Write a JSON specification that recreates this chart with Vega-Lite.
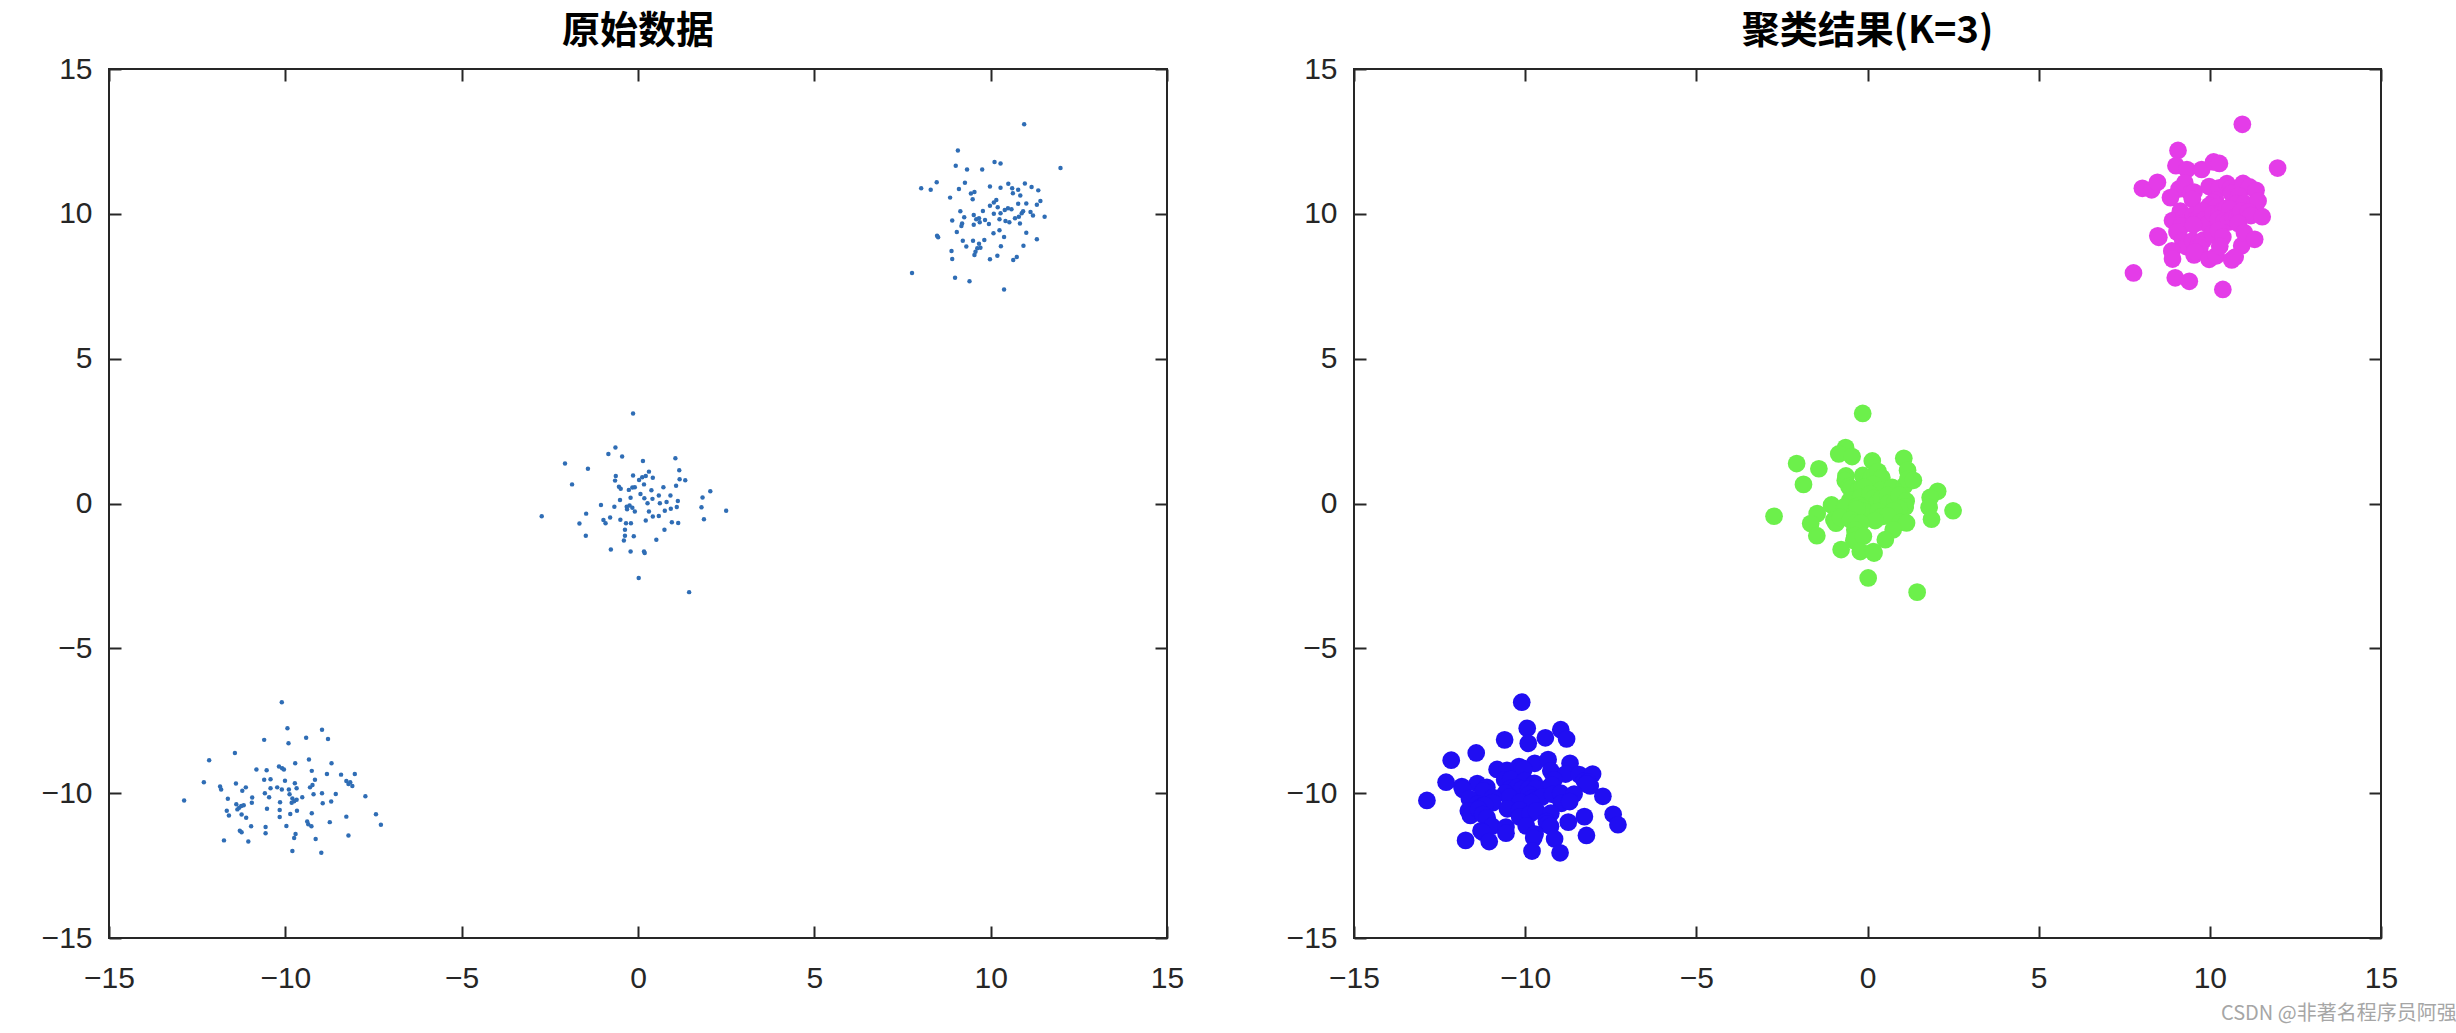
{
"$schema": "https://vega.github.io/schema/vega-lite/v6.json",
"background": "white",
"padding": {"left": 40, "top": 12, "right": 8, "bottom": 5},
"config": {
  "view": {"stroke": "#262626", "strokeWidth": 2},
  "axis": {"domain": false, "grid": false, "tickSize": -12, "tickColor": "#262626", "tickWidth": 2, "labelFont": "Liberation Sans", "labelFontSize": 30, "labelColor": "#262626", "labelFlush": false, "labelOverlap": false, "labelBound": false, "title": null},
  "title": {"font": "Noto Sans CJK SC", "fontSize": 38, "fontWeight": "bold", "color": "#000000", "offset": 3}
},
"data": {"values": [
{"x":10.95,"y":13.09,"c":"A"},{"x":9.07,"y":12.19,"c":"A"},{"x":9.01,"y":11.66,"c":"A"},{"x":9.33,"y":11.53,"c":"A"},{"x":9.76,"y":11.53,"c":"A"},{"x":10.11,"y":11.79,"c":"A"},{"x":10.28,"y":11.74,"c":"A"},{"x":11.98,"y":11.58,"c":"A"},{"x":8.03,"y":10.88,"c":"A"},{"x":8.30,"y":10.83,"c":"A"},
{"x":8.47,"y":11.09,"c":"A"},{"x":9.10,"y":10.86,"c":"A"},{"x":9.27,"y":11.07,"c":"A"},{"x":8.85,"y":10.56,"c":"A"},{"x":9.44,"y":10.70,"c":"A"},{"x":9.54,"y":10.75,"c":"A"},{"x":9.49,"y":10.50,"c":"A"},{"x":9.98,"y":10.94,"c":"A"},{"x":10.28,"y":10.90,"c":"A"},{"x":10.50,"y":11.04,"c":"A"},
{"x":10.61,"y":10.88,"c":"A"},{"x":10.78,"y":10.83,"c":"A"},{"x":10.97,"y":11.05,"c":"A"},{"x":11.16,"y":10.93,"c":"A"},{"x":11.35,"y":10.81,"c":"A"},{"x":10.63,"y":10.71,"c":"A"},{"x":10.84,"y":10.63,"c":"A"},{"x":10.16,"y":10.48,"c":"A"},{"x":10.09,"y":10.39,"c":"A"},{"x":9.98,"y":10.28,"c":"A"},
{"x":10.20,"y":10.23,"c":"A"},{"x":10.78,"y":10.35,"c":"A"},{"x":11.01,"y":10.36,"c":"A"},{"x":11.31,"y":10.31,"c":"A"},{"x":11.41,"y":10.44,"c":"A"},{"x":9.14,"y":10.09,"c":"A"},{"x":8.91,"y":9.77,"c":"A"},{"x":9.25,"y":9.88,"c":"A"},{"x":9.19,"y":9.67,"c":"A"},{"x":9.17,"y":9.58,"c":"A"},
{"x":9.52,"y":9.96,"c":"A"},{"x":9.59,"y":9.81,"c":"A"},{"x":9.67,"y":9.85,"c":"A"},{"x":9.78,"y":10.10,"c":"A"},{"x":9.69,"y":9.71,"c":"A"},{"x":9.84,"y":9.79,"c":"A"},{"x":9.95,"y":9.65,"c":"A"},{"x":9.52,"y":9.62,"c":"A"},{"x":10.09,"y":10.00,"c":"A"},{"x":10.28,"y":10.02,"c":"A"},
{"x":10.40,"y":10.13,"c":"A"},{"x":10.49,"y":10.19,"c":"A"},{"x":10.59,"y":10.16,"c":"A"},{"x":10.25,"y":9.81,"c":"A"},{"x":10.42,"y":9.75,"c":"A"},{"x":10.53,"y":9.71,"c":"A"},{"x":10.69,"y":9.85,"c":"A"},{"x":10.80,"y":9.90,"c":"A"},{"x":10.88,"y":10.02,"c":"A"},{"x":10.92,"y":10.09,"c":"A"},
{"x":11.13,"y":10.06,"c":"A"},{"x":11.20,"y":9.94,"c":"A"},{"x":11.53,"y":9.90,"c":"A"},{"x":10.83,"y":9.67,"c":"A"},{"x":9.04,"y":9.37,"c":"A"},{"x":8.51,"y":9.19,"c":"A"},{"x":8.48,"y":9.24,"c":"A"},{"x":9.21,"y":9.07,"c":"A"},{"x":9.31,"y":8.87,"c":"A"},{"x":9.50,"y":9.07,"c":"A"},
{"x":9.67,"y":8.97,"c":"A"},{"x":9.82,"y":9.10,"c":"A"},{"x":9.62,"y":8.81,"c":"A"},{"x":9.71,"y":8.83,"c":"A"},{"x":9.54,"y":8.58,"c":"A"},{"x":9.57,"y":8.69,"c":"A"},{"x":8.89,"y":8.72,"c":"A"},{"x":8.91,"y":8.44,"c":"A"},{"x":9.98,"y":8.43,"c":"A"},{"x":10.19,"y":8.55,"c":"A"},
{"x":10.08,"y":9.33,"c":"A"},{"x":10.25,"y":9.43,"c":"A"},{"x":10.38,"y":9.20,"c":"A"},{"x":10.29,"y":8.88,"c":"A"},{"x":10.93,"y":8.90,"c":"A"},{"x":11.01,"y":9.35,"c":"A"},{"x":11.31,"y":9.12,"c":"A"},{"x":10.64,"y":8.41,"c":"A"},{"x":10.74,"y":8.51,"c":"A"},{"x":7.77,"y":7.96,"c":"A"},
{"x":8.99,"y":7.79,"c":"A"},{"x":9.40,"y":7.67,"c":"A"},{"x":10.38,"y":7.39,"c":"A"},
{"x":-0.14,"y":3.11,"c":"B"},{"x":-0.64,"y":1.93,"c":"B"},{"x":-0.84,"y":1.71,"c":"B"},{"x":-0.45,"y":1.62,"c":"B"},{"x":-2.07,"y":1.38,"c":"B"},{"x":-1.42,"y":1.20,"c":"B"},{"x":0.14,"y":1.47,"c":"B"},{"x":1.06,"y":1.56,"c":"B"},{"x":1.17,"y":1.15,"c":"B"},{"x":-1.87,"y":0.66,"c":"B"},
{"x":-0.63,"y":0.95,"c":"B"},{"x":-0.65,"y":0.79,"c":"B"},{"x":-0.54,"y":0.58,"c":"B"},{"x":-0.49,"y":0.51,"c":"B"},{"x":-0.14,"y":0.97,"c":"B"},{"x":0.03,"y":0.81,"c":"B"},{"x":0.12,"y":0.91,"c":"B"},{"x":0.22,"y":0.95,"c":"B"},{"x":0.31,"y":1.10,"c":"B"},{"x":0.42,"y":0.89,"c":"B"},
{"x":0.17,"y":0.66,"c":"B"},{"x":-0.26,"y":0.47,"c":"B"},{"x":-0.16,"y":0.55,"c":"B"},{"x":-0.09,"y":0.56,"c":"B"},{"x":0.38,"y":0.46,"c":"B"},{"x":0.72,"y":0.56,"c":"B"},{"x":1.08,"y":0.61,"c":"B"},{"x":1.18,"y":0.84,"c":"B"},{"x":1.34,"y":0.80,"c":"B"},{"x":2.05,"y":0.42,"c":"B"},
{"x":1.83,"y":0.21,"c":"B"},{"x":1.80,"y":-0.13,"c":"B"},{"x":2.50,"y":-0.25,"c":"B"},{"x":1.87,"y":-0.54,"c":"B"},{"x":-0.51,"y":0.12,"c":"B"},{"x":-0.21,"y":0.20,"c":"B"},{"x":0.07,"y":0.33,"c":"B"},{"x":0.18,"y":0.18,"c":"B"},{"x":0.27,"y":0.01,"c":"B"},{"x":0.41,"y":0.16,"c":"B"},
{"x":0.59,"y":0.28,"c":"B"},{"x":0.62,"y":0.01,"c":"B"},{"x":0.81,"y":0.05,"c":"B"},{"x":0.92,"y":0.28,"c":"B"},{"x":1.13,"y":0.09,"c":"B"},{"x":1.10,"y":-0.12,"c":"B"},{"x":0.93,"y":-0.18,"c":"B"},{"x":0.76,"y":-0.25,"c":"B"},{"x":-1.05,"y":-0.05,"c":"B"},{"x":-0.67,"y":-0.11,"c":"B"},
{"x":-0.32,"y":-0.11,"c":"B"},{"x":-0.24,"y":-0.07,"c":"B"},{"x":-0.16,"y":-0.15,"c":"B"},{"x":-0.09,"y":-0.28,"c":"B"},{"x":-0.31,"y":-0.20,"c":"B"},{"x":0.31,"y":-0.28,"c":"B"},{"x":0.42,"y":-0.45,"c":"B"},{"x":0.59,"y":-0.43,"c":"B"},{"x":0.22,"y":-0.59,"c":"B"},{"x":-2.73,"y":-0.44,"c":"B"},
{"x":-1.47,"y":-0.35,"c":"B"},{"x":-1.66,"y":-0.69,"c":"B"},{"x":-0.98,"y":-0.57,"c":"B"},{"x":-0.92,"y":-0.68,"c":"B"},{"x":-0.79,"y":-0.48,"c":"B"},{"x":-0.50,"y":-0.56,"c":"B"},{"x":-0.34,"y":-0.68,"c":"B"},{"x":-0.20,"y":-0.68,"c":"B"},{"x":0.96,"y":-0.65,"c":"B"},{"x":1.14,"y":-0.67,"c":"B"},
{"x":0.75,"y":-0.91,"c":"B"},{"x":-1.48,"y":-1.11,"c":"B"},{"x":-0.37,"y":-0.91,"c":"B"},{"x":-0.37,"y":-1.11,"c":"B"},{"x":-0.40,"y":-1.28,"c":"B"},{"x":-0.12,"y":-1.13,"c":"B"},{"x":0.52,"y":-1.25,"c":"B"},{"x":-0.77,"y":-1.59,"c":"B"},{"x":-0.21,"y":-1.66,"c":"B"},{"x":0.17,"y":-1.66,"c":"B"},
{"x":0.19,"y":-1.71,"c":"B"},{"x":0.02,"y":-2.57,"c":"B"},{"x":1.45,"y":-3.06,"c":"B"},
{"x":-10.10,"y":-6.86,"c":"C"},{"x":-9.94,"y":-7.76,"c":"C"},{"x":-8.96,"y":-7.81,"c":"C"},{"x":-10.60,"y":-8.16,"c":"C"},{"x":-9.91,"y":-8.28,"c":"C"},{"x":-9.41,"y":-8.09,"c":"C"},{"x":-8.79,"y":-8.13,"c":"C"},{"x":-11.43,"y":-8.61,"c":"C"},{"x":-12.16,"y":-8.86,"c":"C"},{"x":-9.72,"y":-8.97,"c":"C"},
{"x":-9.33,"y":-8.84,"c":"C"},{"x":-8.69,"y":-8.97,"c":"C"},{"x":-10.82,"y":-9.18,"c":"C"},{"x":-10.53,"y":-9.21,"c":"C"},{"x":-10.18,"y":-9.08,"c":"C"},{"x":-10.09,"y":-9.14,"c":"C"},{"x":-10.04,"y":-9.18,"c":"C"},{"x":-9.25,"y":-9.23,"c":"C"},{"x":-8.82,"y":-9.34,"c":"C"},{"x":-8.42,"y":-9.36,"c":"C"},
{"x":-8.03,"y":-9.34,"c":"C"},{"x":-12.31,"y":-9.62,"c":"C"},{"x":-11.40,"y":-9.67,"c":"C"},{"x":-10.60,"y":-9.54,"c":"C"},{"x":-10.42,"y":-9.52,"c":"C"},{"x":-10.01,"y":-9.57,"c":"C"},{"x":-9.73,"y":-9.66,"c":"C"},{"x":-9.16,"y":-9.54,"c":"C"},{"x":-8.27,"y":-9.58,"c":"C"},{"x":-8.16,"y":-9.62,"c":"C"},
{"x":-8.10,"y":-9.75,"c":"C"},{"x":-8.21,"y":-9.68,"c":"C"},{"x":-11.85,"y":-9.77,"c":"C"},{"x":-11.82,"y":-9.87,"c":"C"},{"x":-11.12,"y":-9.80,"c":"C"},{"x":-11.22,"y":-9.92,"c":"C"},{"x":-10.42,"y":-9.83,"c":"C"},{"x":-10.23,"y":-9.80,"c":"C"},{"x":-10.10,"y":-9.87,"c":"C"},{"x":-9.90,"y":-9.87,"c":"C"},
{"x":-9.68,"y":-9.83,"c":"C"},{"x":-9.30,"y":-9.80,"c":"C"},{"x":-9.23,"y":-9.72,"c":"C"},{"x":-10.58,"y":-10.00,"c":"C"},{"x":-10.46,"y":-10.14,"c":"C"},{"x":-9.88,"y":-10.04,"c":"C"},{"x":-9.80,"y":-10.18,"c":"C"},{"x":-9.75,"y":-10.28,"c":"C"},{"x":-9.68,"y":-10.23,"c":"C"},{"x":-9.52,"y":-10.14,"c":"C"},
{"x":-9.20,"y":-10.04,"c":"C"},{"x":-8.96,"y":-10.00,"c":"C"},{"x":-8.57,"y":-10.03,"c":"C"},{"x":-7.73,"y":-10.11,"c":"C"},{"x":-12.87,"y":-10.25,"c":"C"},{"x":-11.63,"y":-10.19,"c":"C"},{"x":-10.94,"y":-10.15,"c":"C"},{"x":-10.95,"y":-10.33,"c":"C"},{"x":-11.39,"y":-10.38,"c":"C"},{"x":-11.31,"y":-10.50,"c":"C"},
{"x":-11.25,"y":-10.44,"c":"C"},{"x":-11.18,"y":-10.42,"c":"C"},{"x":-10.15,"y":-10.31,"c":"C"},{"x":-9.82,"y":-10.33,"c":"C"},{"x":-8.94,"y":-10.35,"c":"C"},{"x":-8.70,"y":-10.29,"c":"C"},{"x":-11.66,"y":-10.61,"c":"C"},{"x":-11.60,"y":-10.77,"c":"C"},{"x":-11.36,"y":-10.56,"c":"C"},{"x":-11.24,"y":-10.74,"c":"C"},
{"x":-11.11,"y":-10.85,"c":"C"},{"x":-10.52,"y":-10.54,"c":"C"},{"x":-10.16,"y":-10.58,"c":"C"},{"x":-10.16,"y":-10.82,"c":"C"},{"x":-9.86,"y":-10.72,"c":"C"},{"x":-9.67,"y":-10.61,"c":"C"},{"x":-9.25,"y":-10.69,"c":"C"},{"x":-8.27,"y":-10.81,"c":"C"},{"x":-7.43,"y":-10.73,"c":"C"},{"x":-7.29,"y":-11.09,"c":"C"},
{"x":-10.97,"y":-11.14,"c":"C"},{"x":-10.56,"y":-11.17,"c":"C"},{"x":-10.56,"y":-11.38,"c":"C"},{"x":-9.97,"y":-11.13,"c":"C"},{"x":-9.38,"y":-10.98,"c":"C"},{"x":-9.35,"y":-11.07,"c":"C"},{"x":-9.26,"y":-11.14,"c":"C"},{"x":-8.74,"y":-11.00,"c":"C"},{"x":-11.29,"y":-11.30,"c":"C"},{"x":-11.24,"y":-11.35,"c":"C"},
{"x":-9.71,"y":-11.41,"c":"C"},{"x":-9.75,"y":-11.55,"c":"C"},{"x":-9.14,"y":-11.58,"c":"C"},{"x":-8.21,"y":-11.46,"c":"C"},{"x":-11.74,"y":-11.63,"c":"C"},{"x":-11.05,"y":-11.67,"c":"C"},{"x":-9.80,"y":-12.00,"c":"C"},{"x":-8.98,"y":-12.06,"c":"C"}
]},
"title": {"text": "CSDN @非著名程序员阿强", "orient": "bottom", "anchor": "end", "fontSize": 20, "fontWeight": "normal", "color": "#a6a6a6", "font": "Noto Sans CJK SC", "dx": 58, "offset": 10},
"bounds": "flush",
"spacing": 187,
"hconcat": [
  {
    "width": 1058, "height": 869,
    "title": {"text": "原始数据"},
    "layer": [
      {"mark": {"type": "circle", "size": 20, "color": "#2f6db5", "opacity": 1},
       "encoding": {
         "x": {"field": "x", "type": "quantitative", "scale": {"domain": [-15, 15], "nice": false, "zero": false}, "axis": {"orient": "bottom", "labelPadding": 37, "values": [-15, -10, -5, 0, 5, 10, 15]}},
         "y": {"field": "y", "type": "quantitative", "scale": {"domain": [-15, 15], "nice": false, "zero": false}, "axis": {"orient": "left", "labelPadding": 29, "values": [-15, -10, -5, 0, 5, 10, 15]}}
       }},
      {"mark": {"type": "circle", "size": 1, "opacity": 0},
       "encoding": {
         "x": {"field": "x", "type": "quantitative", "axis": {"orient": "top", "labels": false, "values": [-15, -10, -5, 0, 5, 10, 15]}},
         "y": {"field": "y", "type": "quantitative", "axis": {"orient": "right", "labels": false, "values": [-15, -10, -5, 0, 5, 10, 15]}}
       }}
    ]
  },
  {
    "width": 1027, "height": 869,
    "title": {"text": "聚类结果(K=3)"},
    "layer": [
      {"mark": {"type": "circle", "size": 314, "opacity": 1},
       "encoding": {
         "x": {"field": "x", "type": "quantitative", "scale": {"domain": [-15, 15], "nice": false, "zero": false}, "axis": {"orient": "bottom", "labelPadding": 37, "values": [-15, -10, -5, 0, 5, 10, 15]}},
         "y": {"field": "y", "type": "quantitative", "scale": {"domain": [-15, 15], "nice": false, "zero": false}, "axis": {"orient": "left", "labelPadding": 29, "values": [-15, -10, -5, 0, 5, 10, 15]}},
         "color": {"field": "c", "type": "nominal", "scale": {"domain": ["A", "B", "C"], "range": ["#e43ce8", "#6cf04b", "#200ef2"]}, "legend": null}
       }},
      {"mark": {"type": "circle", "size": 1, "opacity": 0},
       "encoding": {
         "x": {"field": "x", "type": "quantitative", "axis": {"orient": "top", "labels": false, "values": [-15, -10, -5, 0, 5, 10, 15]}},
         "y": {"field": "y", "type": "quantitative", "axis": {"orient": "right", "labels": false, "values": [-15, -10, -5, 0, 5, 10, 15]}}
       }}
    ]
  }
]
}
